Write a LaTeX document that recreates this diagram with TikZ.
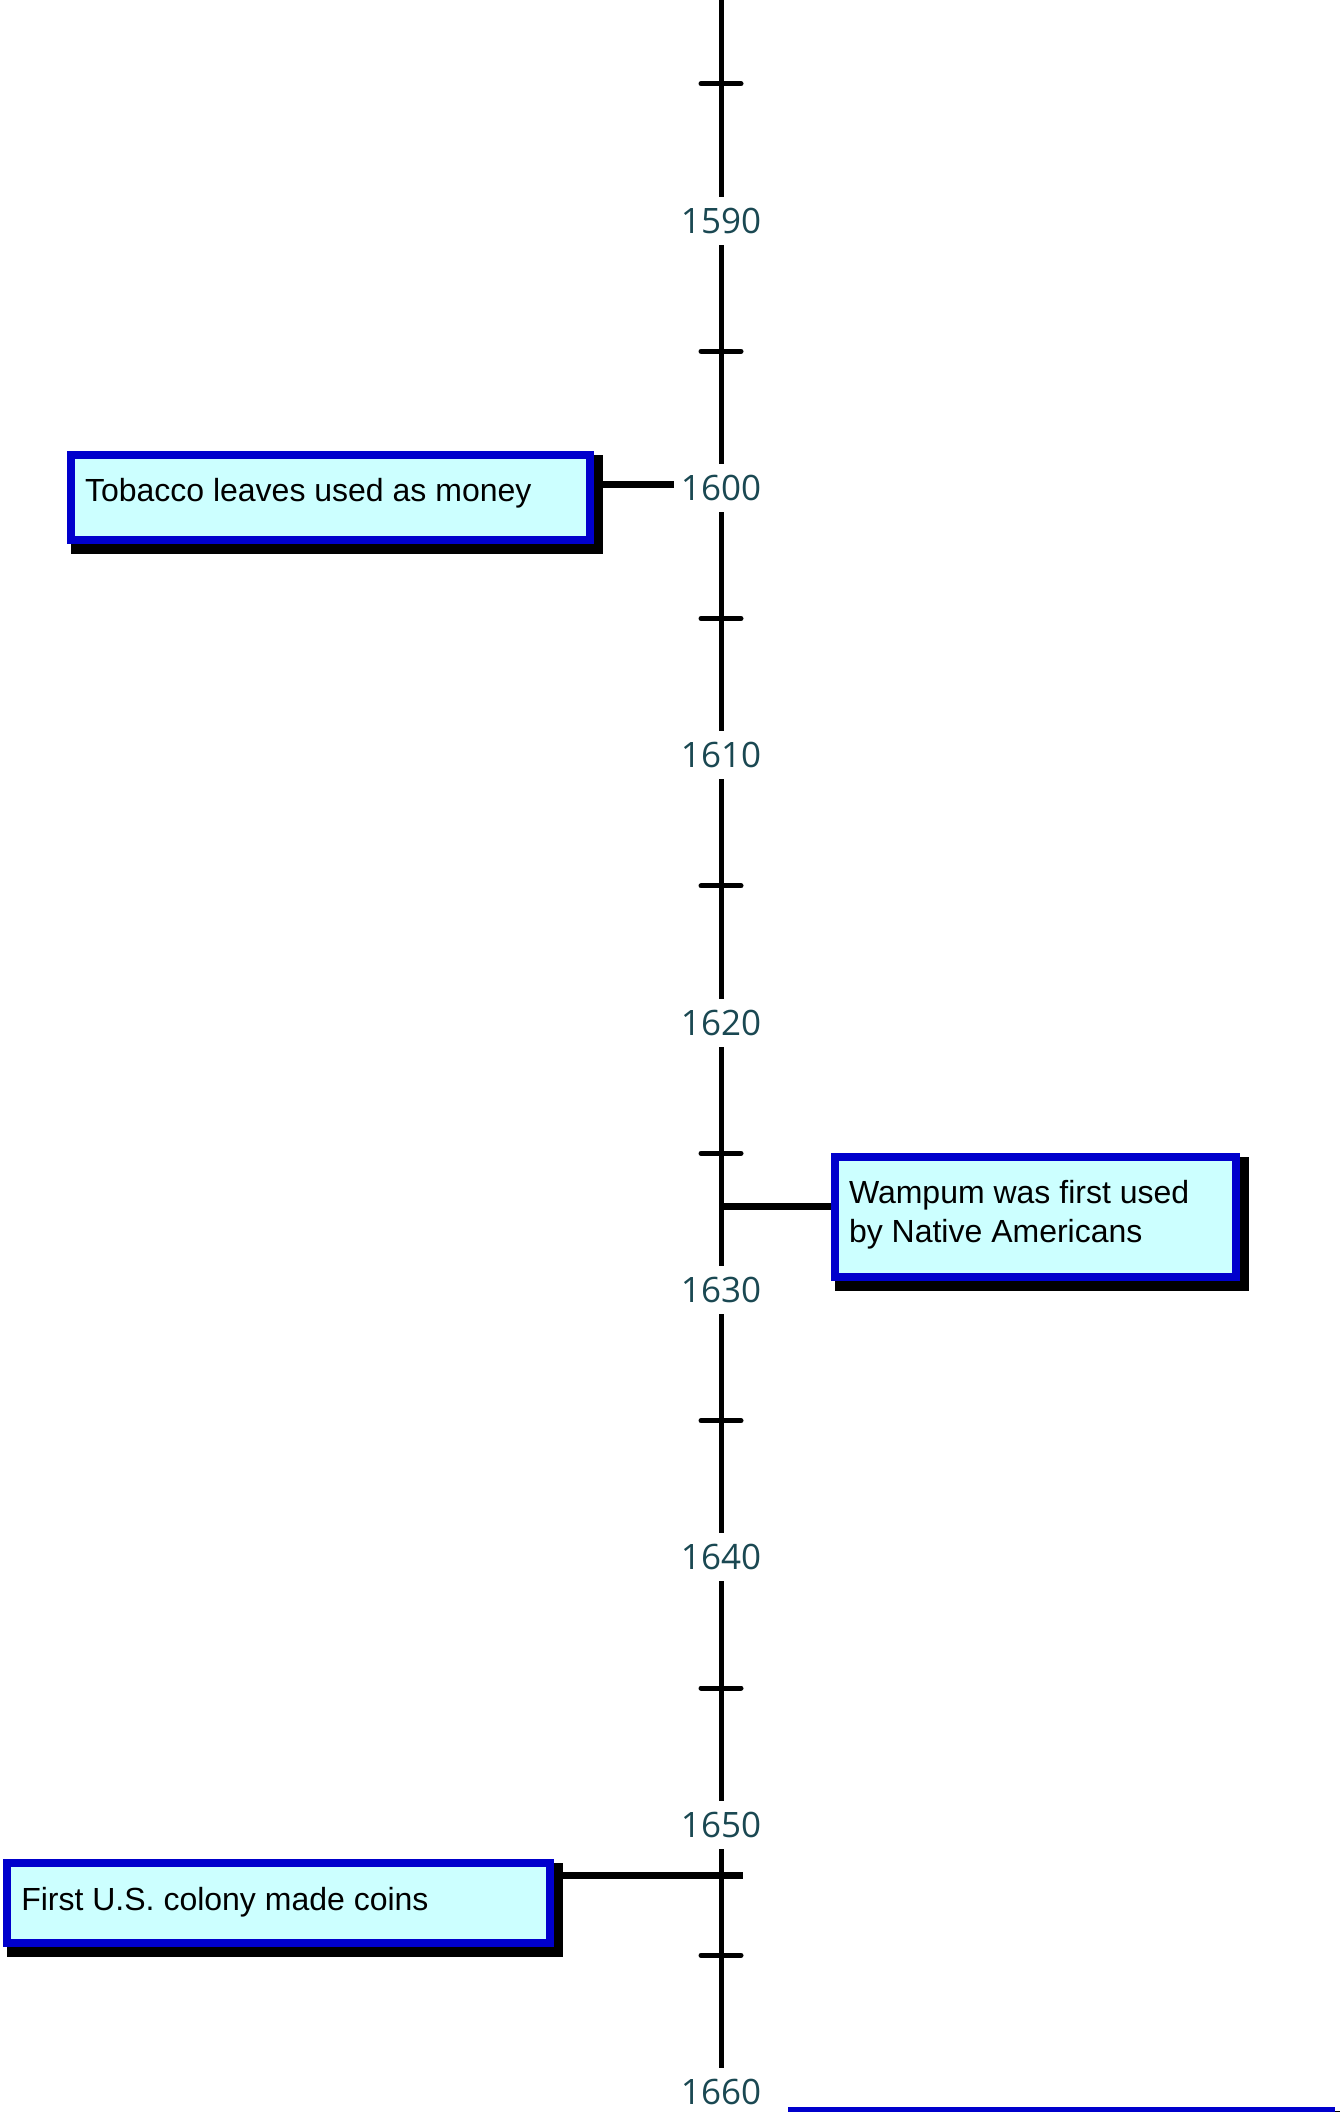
\documentclass[tikz,border=0pt]{standalone}
\usepackage{fontspec}
\setmainfont{Liberation Sans}
\newfontfamily\yearfont{Open Sans}
\usetikzlibrary{backgrounds}
\definecolor{boxblue}{HTML}{0000CC}
\definecolor{boxcyan}{HTML}{CCFFFF}
\definecolor{yeartext}{HTML}{1A4852}
\tikzset{
  event/.style={draw=boxblue, fill=boxcyan, line width=8pt, inner xsep=14pt, inner ysep=0pt,
    outer sep=0pt, anchor=north west, font=\fontsize{32}{39.5}\selectfont, text=black},
  yearlabel/.style={font=\yearfont\fontsize{35}{40}\selectfont, text=yeartext, fill=white,
    minimum width=94pt, minimum height=48pt, inner sep=0pt},
  axisline/.style={line width=5pt, black},
  tickmark/.style={line width=5pt, line cap=round},
  connector/.style={line width=7pt},
  shadowbox/.style={fill=black}
}
\begin{document}
\begin{tikzpicture}[x=1pt,y=-1pt]
\useasboundingbox (0,0) rectangle (1340,2112);
\clip (0,0) rectangle (1340,2112);
% axis
\coordinate (top) at (721,-10);
\coordinate (bot) at (721,2130);
\draw[axisline] (top) -- (bot);
\foreach \Y in {1585,1595,...,1655}
  \draw[tickmark] (701,{217.5+(\Y-1590)*26.736}) -- (741,{217.5+(\Y-1590)*26.736});
% event boxes
\node[event, text height=46pt, text depth=39pt] (b1) at (71,455)
  {\parbox[t]{491pt}{\raggedright Tobacco leaves used as money}};
\node[event, text height=46pt, text depth=74pt] (b2) at (835,1157)
  {\parbox[t]{373pt}{\raggedright Wampum was first used\\by Native Americans}};
\node[event, text height=47pt, text depth=33pt] (b3) at (7.3,1863)
  {\parbox[t]{514.7pt}{\raggedright First U.S. colony made coins}};
\node[event, minimum width=539pt, minimum height=100pt] (b4) at (792,2111) {};
% connector ends on the axis
\coordinate (c1) at (721,{217.5+10*26.736});
\coordinate (c2) at (721,{217.5+37*26.736});
\coordinate (c3) at (742.5,{217.5+62*26.736});
\begin{pgfonlayer}{background}
  \foreach \b in {b1,b2,b3,b4}
    \fill[shadowbox] (\b.north west) rectangle ([shift={(13,14)}]\b.south east);
  \draw[connector] (b1.east |- c1) -- (c1);
  \draw[connector] (c2) -- (c2 -| b2.west);
  \draw[connector] (b3.east |- c3) -- (c3);
\end{pgfonlayer}
% year labels
\foreach \Y in {1590,1600,...,1660}
  \node[yearlabel] (y\Y) at (721,{220.5+(\Y-1590)*26.736}) {\Y};
\end{tikzpicture}
\end{document}
